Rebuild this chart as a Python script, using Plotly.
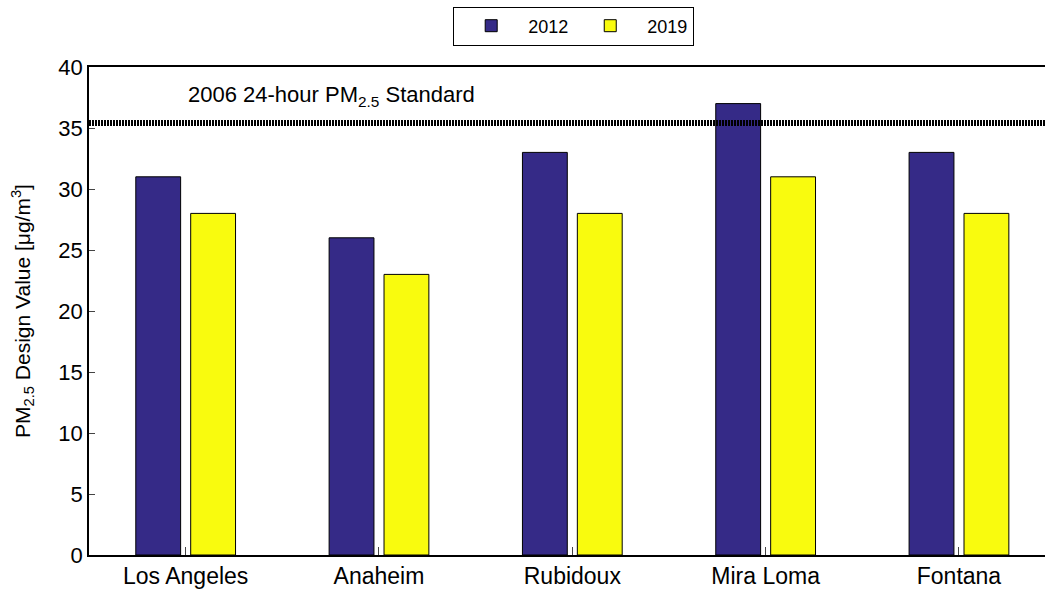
import plotly.graph_objects as go

sites = ["Los Angeles", "Anaheim", "Rubidoux", "Mira Loma", "Fontana"]
values_2012 = [31, 26, 33, 37, 33]
values_2019 = [28, 23, 28, 31, 28]
standard_value = 35.4
standard_label = "2006 24-hour PM<sub>2.5</sub> Standard"
y_ticks = [0, 5, 10, 15, 20, 25, 30, 35, 40]

positions = list(range(1, len(sites) + 1))
offset = 0.142
bar_w = 0.232

fig = go.Figure()
fig.add_trace(go.Bar(
    x=[p - offset for p in positions], y=values_2012, name="2012",
    width=bar_w, marker=dict(color="#352A87", line=dict(color="black", width=1)),
))
fig.add_trace(go.Bar(
    x=[p + offset for p in positions], y=values_2019, name="2019",
    width=bar_w, marker=dict(color="#F9FB0E", line=dict(color="black", width=1)),
))

fig.add_shape(type="line", xref="paper", x0=0, x1=1, yref="y",
              y0=standard_value, y1=standard_value,
              line=dict(color="black", width=6, dash="2px,1px"))
fig.add_annotation(x=1, y=37.6, xref="x", yref="y", text=standard_label,
                   showarrow=False, xanchor="left", yanchor="middle",
                   font=dict(size=22, color="black"))

fig.update_layout(
    width=1045, height=594,
    margin=dict(l=89, r=0, t=67, b=39, autoexpand=False),
    paper_bgcolor="white", plot_bgcolor="white",
    font=dict(family="Liberation Sans, Arial, sans-serif", size=20, color="black"),
    barmode="overlay",
    showlegend=True,
    legend=dict(orientation="h", x=0.507, y=1 - 26 / 594, xref="paper", yref="container",
                xanchor="center", yanchor="middle",
                bordercolor="black", borderwidth=1, font=dict(size=18),
                itemwidth=64, tracegroupgap=0),
)
fig.update_xaxes(
    range=[0.5, 5.445], tickvals=positions, ticktext=sites,
    showline=True, linecolor="black", linewidth=1.5, mirror=True,
    ticks="inside", ticklen=8, tickcolor="#444", showgrid=False, zeroline=False,
    tickfont=dict(size=23), automargin=False,
)
fig.update_yaxes(
    range=[0, 40], tickvals=y_ticks,
    showline=True, linecolor="black", linewidth=1.5, mirror=False,
    ticks="inside", ticklen=6, tickcolor="#444", showgrid=False, zeroline=False,
    tickfont=dict(size=22), automargin=False,
    title=dict(text="PM<sub>2.5</sub> Design Value [μg/m<sup>3</sup>]", font=dict(size=21), standoff=22),
)

fig.write_html("out.html", config={"displayModeBar": False},
               post_script="document.body.style.margin='0';")
